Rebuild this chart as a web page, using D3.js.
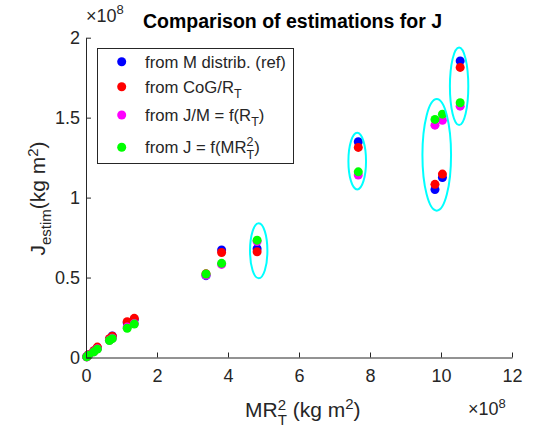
<!DOCTYPE html>
<html>
<head>
<meta charset="utf-8">
<script src="https://d3js.org/d3.v7.min.js"></script>
<style>
body { margin: 0; background: #fff; }
text { font-family: "Liberation Sans", Arial, sans-serif; fill: #262626; }
</style>
</head>
<body>
<svg id="chart" width="533" height="428"></svg>
<script>
// values are in units of 1e8 kg m^2
const xTicks = [0, 2, 4, 6, 8, 10, 12];
const yTicks = [0, 0.5, 1, 1.5, 2];
const mr2  = [0.02, 0.07, 0.22, 0.32, 0.66, 0.74, 1.16, 1.36, 3.38, 3.82, 4.82, 7.67, 9.83, 10.04, 10.54];
const jRef = [0.005, 0.016, 0.040, 0.060, 0.115, 0.135, 0.218, 0.238, 0.512, 0.672, 0.680, 1.349, 1.051, 1.126, 1.855];
const jCoG = [0.005, 0.017, 0.042, 0.065, 0.117, 0.133, 0.224, 0.245, 0.523, 0.657, 0.661, 1.314, 1.083, 1.147, 1.814];
const jJM  = [0.004, 0.014, 0.036, 0.054, 0.108, 0.120, 0.190, 0.212, 0.515, 0.582, 0.725, 1.141, 1.453, 1.484, 1.572];
const jMR2 = [0.004, 0.014, 0.035, 0.052, 0.106, 0.118, 0.183, 0.209, 0.522, 0.589, 0.734, 1.161, 1.489, 1.522, 1.593];

// cyan ellipses highlighting outliers
const ellX  = [4.865, 7.64, 9.88, 10.51];
const ellY  = [0.667, 1.228, 1.267, 1.696];
const ellRx = [0.245, 0.248, 0.403, 0.259];
const ellRy = [0.172, 0.177, 0.349, 0.2425];

const series = [
  {name: 'ref', vals: jRef, color: '#0000ff'},
  {name: 'cog', vals: jCoG, color: '#ff0000'},
  {name: 'jm',  vals: jJM,  color: '#ff00ff'},
  {name: 'mr2', vals: jMR2, color: '#00ff00'}
];

const svg = d3.select('#chart');
const xs = d3.scaleLinear().domain([0, 12]).range([86, 512]);
const ys = d3.scaleLinear().domain([0, 2]).range([357.5, 37.7]);

// helper for text with sub/superscripts
function richText(g, x, y, size, parts, anchor) {
  const t = g.append('text').attr('x', x).attr('y', y)
    .attr('font-size', size).attr('text-anchor', anchor || 'start');
  parts.forEach(p => {
    const s = t.append('tspan').text(p.t);
    if (p.dx) s.attr('dx', p.dx);
    if (p.dy) s.attr('dy', p.dy);
    if (p.size) s.attr('font-size', p.size);
  });
  return t;
}

// points
series.forEach(s => {
  svg.append('g').selectAll('circle')
    .data(mr2)
    .enter()
    .append('circle')
      .attr('cx', d => xs(d))
      .attr('cy', (d, i) => ys(s.vals[i]))
      .attr('r', 4.5)
      .style('fill', s.color);
});

// ellipses
svg.append('g').selectAll('ellipse')
  .data(ellX)
  .enter()
  .append('ellipse')
    .attr('cx', d => xs(d))
    .attr('cy', (d, i) => ys(ellY[i]))
    .attr('rx', (d, i) => xs(ellRx[i]) - xs(0))
    .attr('ry', (d, i) => ys(0) - ys(ellRy[i]))
    .style('fill', 'none')
    .style('stroke', '#00ffff')
    .style('stroke-width', 2);

// axes
const xAxis = svg.append('g')
  .attr('transform', 'translate(0,357.5)')
  .call(d3.axisBottom(xs).tickValues(xTicks).tickSizeInner(-5).tickSizeOuter(0).tickPadding(12));
const yAxis = svg.append('g')
  .attr('transform', 'translate(86,0)')
  .call(d3.axisLeft(ys).tickValues(yTicks).tickFormat(d3.format('')).tickSizeInner(-5).tickSizeOuter(0).tickPadding(6));
[xAxis, yAxis].forEach(a => {
  a.attr('font-family', null).attr('font-size', 18);
  a.selectAll('path,line').style('stroke', '#262626');
  a.selectAll('text').style('fill', '#262626');
});

// exponent labels
richText(svg, 86, 21.5, 18, [{t: '\u00d710'}, {t: '8', dy: -7.5, size: 13}]);
richText(svg, 468, 415, 18, [{t: '\u00d710'}, {t: '8', dy: -7.5, size: 13}]);

// title
svg.append('text')
  .attr('x', 143).attr('y', 28)
  .attr('font-size', 19.5).attr('font-weight', 'bold')
  .style('fill', '#000')
  .text('Comparison of estimations for J');

// x label
richText(svg, 245, 416.7, 21, [
  {t: 'MR'},
  {t: '2', dy: -7, size: 15},
  {t: 'T', dx: -8.3, dy: 15.5, size: 15},
  {t: ' (kg m', dy: -8.5},
  {t: '2', dy: -7.5, size: 15},
  {t: ')', dy: 7.5}
]);

// y label
const yl = svg.append('g').attr('transform', 'translate(45,198.5) rotate(-90)');
richText(yl, 0, 0, 21, [
  {t: 'J'},
  {t: 'estim', dy: 5.5, size: 15},
  {t: '(kg m', dy: -5.5},
  {t: '2', dy: -7.5, size: 15},
  {t: ')', dy: 7.5}
], 'middle');

// legend
const lg = svg.append('g');
lg.append('rect')
  .attr('x', 97.5).attr('y', 48.5).attr('width', 196).attr('height', 115)
  .style('fill', '#fff').style('stroke', '#262626').style('stroke-width', 1);
const legRows = [61.7, 86.7, 115, 147.3];
const legText = [
  [{t: 'from M distrib. (ref)'}],
  [{t: 'from CoG/R'}, {t: 'T', dy: 5, size: 12.5}],
  [{t: 'from J/M = f(R'}, {t: 'T', dy: 5, size: 12.5}, {t: ')', dy: -5}],
  [{t: 'from J = f(MR'}, {t: '2', dy: -7, size: 12.5}, {t: 'T', dx: -7, dy: 13, size: 12.5}, {t: ')', dy: -6}]
];
series.forEach((s, i) => {
  lg.append('circle')
    .attr('cx', 121.7).attr('cy', legRows[i]).attr('r', 4.5)
    .style('fill', s.color);
  richText(lg, 145, legRows[i] + 5.8, 16.7, legText[i]);
});
</script>
</body>
</html>
